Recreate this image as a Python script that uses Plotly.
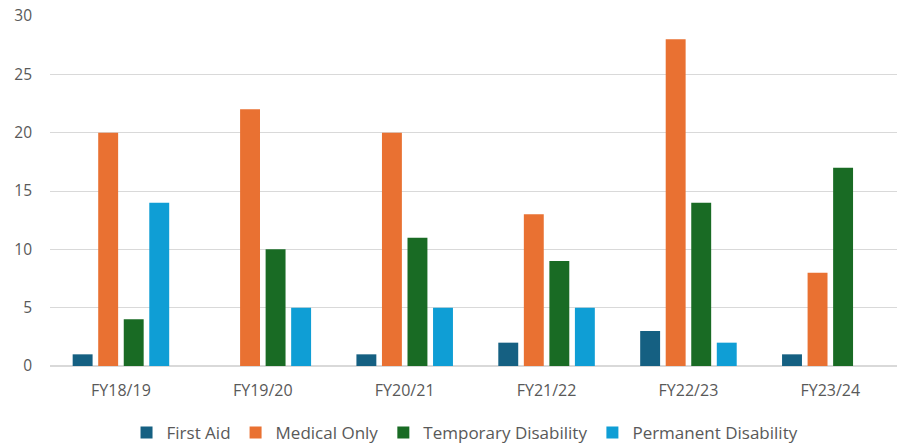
import plotly.graph_objects as go

# Injury counts per financial year, by claim category
years = ["FY18/19", "FY19/20", "FY20/21", "FY21/22", "FY22/23", "FY23/24"]
first_aid = [1, 0, 1, 2, 3, 1]
medical_only = [20, 22, 20, 13, 28, 8]
temporary_disability = [4, 10, 11, 9, 14, 17]
permanent_disability = [14, 5, 5, 5, 2, 0]

series = [
    ("First Aid", first_aid, "#156082"),
    ("Medical Only", medical_only, "#E97132"),
    ("Temporary Disability", temporary_disability, "#196B24"),
    ("Permanent Disability", permanent_disability, "#0F9ED5"),
]

FONT = "Open Sans, Liberation Sans, Arial, sans-serif"
TEXT = "#595959"
GRID = "#D9D9D9"

fig = go.Figure()
for name, vals, color in series:
    fig.add_trace(go.Bar(
        name=name, x=years, y=vals,
        marker=dict(color=color, line=dict(width=0)),
    ))

fig.update_layout(
    width=897, height=446,
    margin=dict(l=50, r=0, t=16, b=80, autoexpand=False),
    paper_bgcolor="white", plot_bgcolor="white",
    barmode="group", bargap=0.28, bargroupgap=0.22,
    font=dict(family=FONT, size=15, color=TEXT),
    showlegend=True,
    legend=dict(
        orientation="h", x=0.49, xanchor="center",
        yref="container", y=1 - 433 / 446, yanchor="middle",
        font=dict(family=FONT, size=17, color=TEXT),
        traceorder="normal",
    ),
    xaxis=dict(
        type="category", range=[-0.5, 5.47],
        showgrid=False, showline=False, zeroline=False, ticks="",
        ticklabelstandoff=13,
        tickfont=dict(family=FONT, size=16, color=TEXT),
    ),
    yaxis=dict(
        range=[0, 30], dtick=5, tick0=0,
        showgrid=True, gridcolor=GRID, gridwidth=1,
        zeroline=True, zerolinecolor=GRID, zerolinewidth=1.5,
        showline=False, ticks="",
        ticklabelstandoff=17,
        tickfont=dict(family=FONT, size=15.5, color=TEXT),
    ),
)

fig.write_html("out.html")
